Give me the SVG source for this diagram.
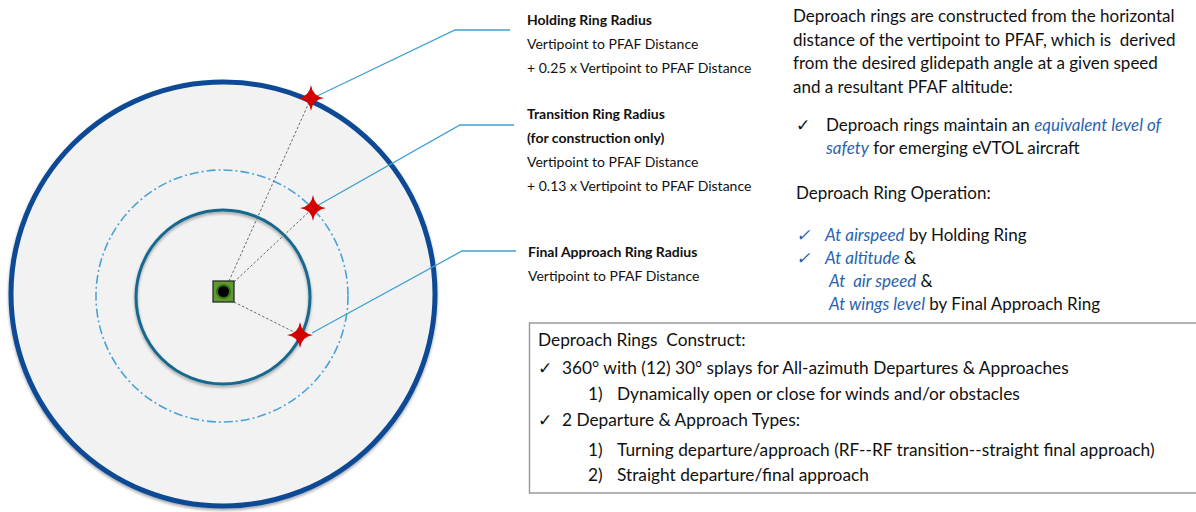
<svg xmlns="http://www.w3.org/2000/svg" width="1196" height="512" viewBox="0 0 1196 512">
<style>
text{font-family:Lato,"Open Sans","Liberation Sans",sans-serif;fill:#111}
.lbl{font-size:14px}
.lblb{font-size:14px;font-weight:bold}
.p{font-size:17px}
.b{font-size:17.3px}
.it{fill:#2a63b0;font-style:italic}
.conn{stroke:#3fa0d0;stroke-width:1.3;fill:none}
.dot{stroke:#666;stroke-width:1;stroke-dasharray:2.5 2;fill:none}
.star{fill:#d40000}
</style>
<defs>
<path id="star" d="M0,-13 Q1.6,-1.6 13,0 Q1.6,1.6 0,13 Q-1.6,1.6 -13,0 Q-1.6,-1.6 0,-13 Z"/>
<filter id="sh" x="-10%" y="-10%" width="120%" height="120%"><feGaussianBlur in="SourceAlpha" stdDeviation="1.5"/><feOffset dx="0" dy="1.5"/><feComponentTransfer><feFuncA type="linear" slope="0.35"/></feComponentTransfer><feMerge><feMergeNode/><feMergeNode in="SourceGraphic"/></feMerge></filter>
</defs>
<g id="outer-ring"><circle cx="223" cy="294" r="212" fill="#f2f2f2" stroke="#0b4a95" stroke-width="5" filter="url(#sh)"/></g>
<g id="transition-ring"><circle cx="222" cy="296" r="126" fill="none" stroke="#4ba3d6" stroke-width="1.6" stroke-dasharray="9 3 2 3"/></g>
<g id="final-ring"><circle cx="223" cy="297" r="87" fill="none" stroke="#16688f" stroke-width="3" filter="url(#sh)"/></g>
<g id="connectors">
<line class="dot" x1="229" y1="281" x2="311" y2="98"/>
<line class="dot" x1="234" y1="282" x2="313" y2="208"/>
<line class="dot" x1="234" y1="302" x2="300" y2="335"/>
<polyline class="conn" points="313,98 455,30 510,30"/>
<polyline class="conn" points="315,207 460,125 514,125"/>
<polyline class="conn" points="312,333 462,251 516,251"/>
</g>
<g id="vertipoint">
<rect x="213" y="281" width="21" height="21" fill="#5e9a2e" stroke="#2b2b2b" stroke-width="1.3"/>
<circle cx="223.5" cy="291.5" r="7.5" fill="#3d6f1c"/>
<circle cx="223.5" cy="291.5" r="5.5" fill="#000"/>
</g>
<g id="star-holding"><use href="#star" class="star" x="311" y="98"/></g>
<g id="star-transition"><use href="#star" class="star" x="313" y="208"/></g>
<g id="star-final"><use href="#star" class="star" x="300" y="335"/></g>
<g id="label-holding">
<text class="lblb" x="527" y="25">Holding Ring Radius</text>
<text class="lbl" x="527" y="49">Vertipoint to PFAF Distance</text>
<text class="lbl" x="527" y="73">+ 0.25 x Vertipoint to PFAF Distance</text>
</g>
<g id="label-transition">
<text class="lblb" x="527" y="119">Transition Ring Radius</text>
<text class="lblb" x="527" y="143">(for construction only)</text>
<text class="lbl" x="527" y="167">Vertipoint to PFAF Distance</text>
<text class="lbl" x="527" y="191">+ 0.13 x Vertipoint to PFAF Distance</text>
</g>
<g id="label-final">
<text class="lblb" x="528" y="257">Final Approach Ring Radius</text>
<text class="lbl" x="528" y="281">Vertipoint to PFAF Distance</text>
</g>
<g id="description">
<text class="p" x="793" y="22">Deproach rings are constructed from the horizontal</text>
<text class="p" x="793" y="46" xml:space="preserve">distance of the vertipoint to PFAF, which is  derived</text>
<text class="p" x="793" y="69">from the desired glidepath angle at a given speed</text>
<text class="p" x="793" y="93">and a resultant PFAF altitude:</text>
<text class="p" x="796" y="131">✓</text>
<text class="p" x="826" y="131">Deproach rings maintain an <tspan class="it">equivalent level of</tspan></text>
<text class="p" x="826" y="154"><tspan class="it">safety</tspan> for emerging eVTOL aircraft</text>
<text class="p" x="796" y="199">Deproach Ring Operation:</text>
<text class="p it" x="796" y="241">✓</text>
<text class="p" x="825" y="241"><tspan class="it">At airspeed</tspan> by Holding Ring</text>
<text class="p it" x="796" y="264">✓</text>
<text class="p" x="825" y="264"><tspan class="it">At altitude</tspan> &amp;</text>
<text class="p" x="829" y="287" xml:space="preserve"><tspan class="it">At  air speed</tspan> &amp;</text>
<text class="p" x="829" y="310"><tspan class="it">At wings level</tspan> by Final Approach Ring</text>
</g>
<g id="construct-box">
<rect x="529.5" y="323" width="680" height="170" fill="#fff" stroke="#9a9a9a" stroke-width="1.5"/>
<text class="b" x="538" y="346" xml:space="preserve">Deproach Rings  Construct:</text>
<text class="b" x="538" y="374">✓</text>
<text class="b" x="562" y="374">360° with (12) 30° splays for All-azimuth Departures &amp; Approaches</text>
<text class="b" x="588" y="400">1)</text>
<text class="b" x="617" y="400">Dynamically open or close for winds and/or obstacles</text>
<text class="b" x="538" y="426">✓</text>
<text class="b" x="562" y="426">2 Departure &amp; Approach Types:</text>
<text class="b" x="588" y="456">1)</text>
<text class="b" x="617" y="456">Turning departure/approach (RF--RF transition--straight final approach)</text>
<text class="b" x="588" y="481">2)</text>
<text class="b" x="617" y="481">Straight departure/final approach</text>
</g>
</svg>
